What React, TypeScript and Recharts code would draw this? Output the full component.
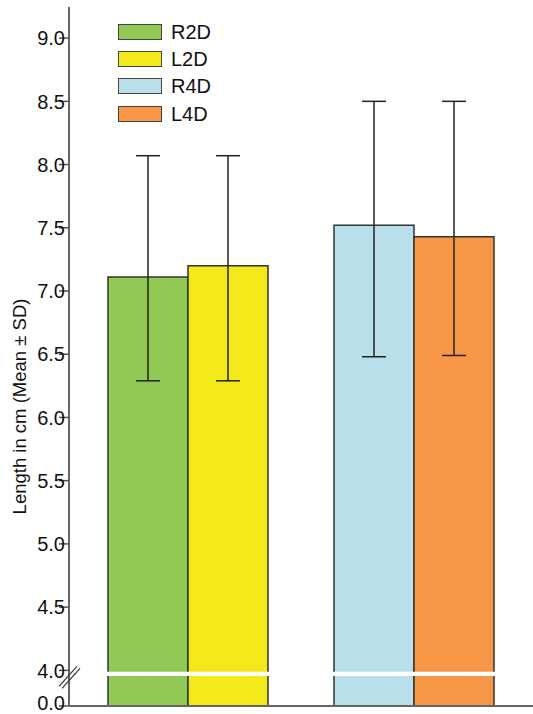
import React from 'react';
import { BarChart, Bar, XAxis, YAxis, Cell, ErrorBar, Legend, ReferenceArea } from 'recharts';

// ---- data ----
const groups = ['2D', '4D'];
const rightMean = [7.11, 7.52];
const leftMean = [7.2, 7.43];
const rightLow = [6.29, 6.48];
const rightHigh = [8.07, 8.5];
const leftLow = [6.29, 6.49];
const leftHigh = [8.07, 8.5];

const rightColors = ['#92c955', '#b8dfea'];
const leftColors = ['#f2e81a', '#f79646'];

const legendLabels = ['R2D', 'L2D', 'R4D', 'L4D'];
const legendColors = ['#92c955', '#f2e81a', '#b8dfea', '#f79646'];

// broken axis: the floor of the plot stands for 0.0
const BREAK_BOTTOM = 3.718;
const Y_TOP = 9.246;
const yTickValues = [BREAK_BOTTOM, 4.0, 4.5, 5.0, 5.5, 6.0, 6.5, 7.0, 7.5, 8.0, 8.5, 9.0];
const yTickLabels = ['0.0', '4.0', '4.5', '5.0', '5.5', '6.0', '6.5', '7.0', '7.5', '8.0', '8.5', '9.0'];
const breakBand = [3.955, 3.988];

const data = groups.map((g, i) => ({
  group: g,
  right: rightMean[i],
  left: leftMean[i],
  errRight: [rightMean[i] - rightLow[i], rightHigh[i] - rightMean[i]],
  errLeft: [leftMean[i] - leftLow[i], leftHigh[i] - leftMean[i]],
}));

const FONT = '"Liberation Sans", Arial, Helvetica, sans-serif';

const YTick = (props: any) => {
  const { x, y, payload, index } = props;
  const idx = typeof index === 'number' ? index : yTickValues.indexOf(payload.value);
  const label = yTickLabels[idx] ?? String(payload.value);
  const ax = x + 5;
  const lift = label === '0.0' ? -3 : 0;
  return (
    <g>
      <text x={x + 1} y={y + lift} dy="0.36em" textAnchor="end" fontSize={20} fill="#111" fontFamily={FONT}>
        {label}
      </text>
      {label === '4.0' && (
        <g stroke="#333" strokeWidth={1.2}>
          <line x1={ax - 10} y1={y + 16} x2={ax + 8} y2={y - 4} />
          <line x1={ax - 7} y1={y + 18} x2={ax + 11} y2={y - 2} />
        </g>
      )}
    </g>
  );
};

const YLabel = (props: any) => {
  const vb = props.viewBox || { x: 0, y: 0, width: 0, height: 0 };
  const cx = vb.x + 26;
  const cy = vb.y + vb.height / 2 + 50;
  return (
    <text
      x={cx}
      y={cy}
      textAnchor="middle"
      fontSize={18.5}
      fill="#111"
      fontFamily={FONT}
      transform={`rotate(-90, ${cx}, ${cy})`}
    >
      Length in cm (Mean ± SD)
    </text>
  );
};

const LegendContent = () => (
  <div style={{ fontFamily: FONT }}>
    {legendLabels.map((l, i) => (
      <div key={l} style={{ display: 'flex', alignItems: 'center', height: 27.3 }}>
        <div
          style={{
            width: 42,
            height: 14,
            background: legendColors[i],
            border: '1.5px solid #444',
          }}
        />
        <span style={{ marginLeft: 9, fontSize: 20, color: '#111', lineHeight: '20px' }}>{l}</span>
      </div>
    ))}
  </div>
);

export default function App() {
  return (
    <div style={{ position: 'absolute', left: 0, top: 0, background: '#fff' }}>
      <BarChart
        width={533}
        height={714}
        data={data}
        margin={{ top: 7, right: 0, bottom: 7, left: 0 }}
        barSize={80}
        barGap={0}
      >
        <XAxis
          dataKey="group"
          height={1}
          tick={false}
          tickLine={false}
          axisLine={{ stroke: '#666', strokeWidth: 2 }}
          padding={{ left: 6, right: 6 }}
        />
        <YAxis
          type="number"
          width={69}
          domain={[BREAK_BOTTOM, Y_TOP]}
          allowDataOverflow
          ticks={yTickValues}
          interval={0}
          tickSize={10}
          tickMargin={-5}
          tick={<YTick />}
          tickLine={{ stroke: '#555', strokeWidth: 1.5 }}
          axisLine={{ stroke: '#666', strokeWidth: 2 }}
          label={<YLabel />}
        />
        <Legend
          layout="vertical"
          align="center"
          verticalAlign="middle"
          content={<LegendContent />}
          wrapperStyle={{ top: 18, left: 118, width: 120 }}
        />
        <Bar dataKey="right" stroke="#333" strokeWidth={1.5} isAnimationActive={false}>
          {groups.map((g, i) => (
            <Cell key={g} fill={rightColors[i]} />
          ))}
          <ErrorBar dataKey="errRight" width={12} stroke="#222" strokeWidth={1.5} direction="y" />
        </Bar>
        <Bar dataKey="left" stroke="#333" strokeWidth={1.5} isAnimationActive={false}>
          {groups.map((g, i) => (
            <Cell key={g} fill={leftColors[i]} />
          ))}
          <ErrorBar dataKey="errLeft" width={12} stroke="#222" strokeWidth={1.5} direction="y" />
        </Bar>
        <ReferenceArea
          x1="2D"
          x2="4D"
          y1={breakBand[0]}
          y2={breakBand[1]}
          fill="#fff"
          fillOpacity={1}
          stroke="none"
          zIndex={1000}
          isAnimationActive={false}
        />
      </BarChart>
    </div>
  );
}
